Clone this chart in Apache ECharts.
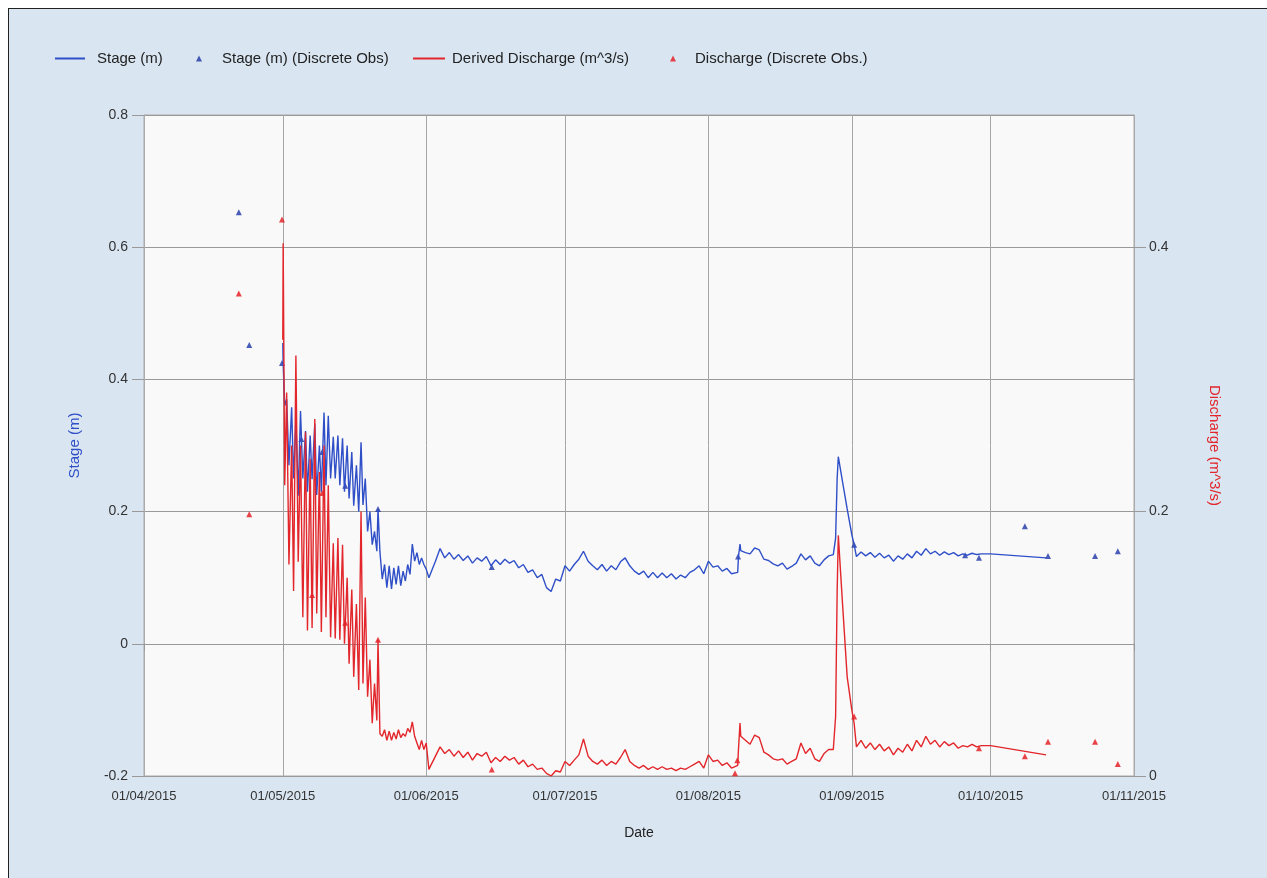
<!DOCTYPE html>
<html><head><meta charset="utf-8">
<script src="https://cdn.jsdelivr.net/npm/echarts@6/dist/echarts.min.js"></script>
<style>
html,body{margin:0;padding:0;background:#fff;width:1267px;height:878px;overflow:hidden;}
#frame{position:absolute;left:8px;top:8px;width:1300px;height:900px;border:1.5px solid #222;background:#d9e5f1;}
#chart{position:absolute;left:0;top:0;width:1267px;height:878px;}
</style></head><body>
<div id="frame"></div><div id="chart"></div>
<script>
const xTickDates = ['2015-04-01','2015-05-01','2015-06-01','2015-07-01','2015-08-01','2015-09-01','2015-10-01','2015-11-01'];
const xTickLabels = ['01/04/2015','01/05/2015','01/06/2015','01/07/2015','01/08/2015','01/09/2015','01/10/2015','01/11/2015'];
const rightTicks = [0, 0.2, 0.4];

const lineTimes = [
'2015-05-01 00:00','2015-05-01 02:00','2015-05-01 10:00','2015-05-01 20:00','2015-05-02 08:00','2015-05-02 22:00',
'2015-05-03 08:00','2015-05-03 20:00','2015-05-04 08:00','2015-05-04 20:00','2015-05-05 08:00','2015-05-05 22:00',
'2015-05-06 08:00','2015-05-06 22:00','2015-05-07 08:00','2015-05-07 22:00','2015-05-08 08:00','2015-05-08 22:00',
'2015-05-09 08:00','2015-05-09 22:00','2015-05-10 08:00','2015-05-10 20:00','2015-05-11 08:00','2015-05-11 22:00',
'2015-05-12 08:00','2015-05-12 22:00','2015-05-13 08:00','2015-05-13 22:00','2015-05-14 08:00','2015-05-14 22:00',
'2015-05-15 08:00','2015-05-15 22:00','2015-05-16 08:00','2015-05-16 22:00','2015-05-17 10:00','2015-05-17 22:00',
'2015-05-18 08:00','2015-05-18 20:00','2015-05-19 08:00','2015-05-19 20:00','2015-05-20 08:00','2015-05-20 20:00',
'2015-05-21 08:00','2015-05-21 14:00','2015-05-22 00:00','2015-05-22 12:00','2015-05-23 00:00','2015-05-23 12:00',
'2015-05-24 00:00','2015-05-24 12:00','2015-05-25 00:00','2015-05-25 12:00','2015-05-26 00:00','2015-05-26 12:00',
'2015-05-27 00:00','2015-05-27 12:00','2015-05-28 00:00','2015-05-28 12:00','2015-05-29 00:00','2015-05-29 12:00',
'2015-05-30 00:00','2015-05-30 12:00','2015-05-31 00:00','2015-05-31 12:00',
'2015-06-01 00:00','2015-06-01 14:00','2015-06-02','2015-06-03','2015-06-04','2015-06-05','2015-06-06','2015-06-07',
'2015-06-08','2015-06-09','2015-06-10','2015-06-11','2015-06-12','2015-06-13','2015-06-14','2015-06-15','2015-06-16',
'2015-06-17','2015-06-18','2015-06-19','2015-06-20','2015-06-21','2015-06-22','2015-06-23','2015-06-24','2015-06-25',
'2015-06-26','2015-06-27','2015-06-28','2015-06-29','2015-06-30',
'2015-07-01','2015-07-02','2015-07-03','2015-07-04','2015-07-05','2015-07-06','2015-07-07','2015-07-08','2015-07-09',
'2015-07-10','2015-07-11','2015-07-12','2015-07-13','2015-07-14','2015-07-15','2015-07-16','2015-07-17','2015-07-18',
'2015-07-19','2015-07-20','2015-07-21','2015-07-22','2015-07-23','2015-07-24','2015-07-25','2015-07-26','2015-07-27',
'2015-07-28','2015-07-29','2015-07-30','2015-07-31',
'2015-08-01','2015-08-02','2015-08-03','2015-08-04','2015-08-05','2015-08-06','2015-08-07 08:00','2015-08-07 12:00',
'2015-08-07 20:00','2015-08-08','2015-08-09','2015-08-10','2015-08-11','2015-08-12','2015-08-13','2015-08-14',
'2015-08-15','2015-08-16','2015-08-17','2015-08-18','2015-08-19','2015-08-20','2015-08-21','2015-08-22','2015-08-23',
'2015-08-24','2015-08-25','2015-08-26','2015-08-27','2015-08-28 00:00','2015-08-28 12:00','2015-08-28 20:00',
'2015-08-29 02:00','2015-08-30 00:00','2015-08-31 00:00','2015-09-01 00:00','2015-09-01 12:00',
'2015-09-02','2015-09-03','2015-09-04','2015-09-05','2015-09-06','2015-09-07','2015-09-08','2015-09-09','2015-09-10',
'2015-09-11','2015-09-12','2015-09-13','2015-09-14','2015-09-15','2015-09-16','2015-09-17','2015-09-18','2015-09-19',
'2015-09-20','2015-09-21','2015-09-22','2015-09-23','2015-09-24','2015-09-25','2015-09-26','2015-09-27','2015-09-28',
'2015-09-29','2015-09-30','2015-10-01','2015-10-13'
];

const stageValues = [
0.455,0.423,0.36,0.37,0.27,0.358,
0.25,0.34,0.224,0.352,0.25,0.322,
0.23,0.315,0.249,0.333,0.225,0.30,
0.23,0.35,0.24,0.345,0.25,0.313,
0.25,0.315,0.24,0.311,0.23,0.30,
0.22,0.29,0.209,0.27,0.20,0.305,
0.21,0.25,0.17,0.20,0.15,0.17,
0.14,0.204,0.139,0.098,0.12,0.085,
0.118,0.083,0.115,0.09,0.118,0.088,
0.11,0.095,0.12,0.105,0.151,0.125,
0.138,0.12,0.13,0.12,
0.113,0.10,0.103,0.125,0.144,0.13,0.138,0.128,
0.135,0.126,0.133,0.122,0.13,0.125,0.132,0.118,0.127,
0.12,0.128,0.122,0.126,0.115,0.12,0.108,0.112,0.10,
0.105,0.085,0.079,0.098,0.095,
0.118,0.11,0.12,0.128,0.14,0.125,0.118,0.112,0.12,
0.11,0.118,0.112,0.124,0.13,0.118,0.11,0.105,0.11,
0.10,0.108,0.10,0.107,0.10,0.106,0.098,0.104,0.10,
0.108,0.112,0.118,0.106,
0.125,0.116,0.118,0.11,0.114,0.106,0.108,0.132,
0.151,0.141,0.138,0.136,0.145,0.142,0.128,0.126,
0.121,0.118,0.122,0.113,0.117,0.122,0.136,0.127,0.133,
0.122,0.118,0.127,0.133,0.135,0.16,0.25,
0.283,0.245,0.204,0.165,0.15,
0.132,0.139,0.133,0.138,0.131,0.137,0.13,0.134,0.125,
0.133,0.128,0.136,0.13,0.14,0.134,0.144,0.136,0.14,
0.134,0.139,0.135,0.138,0.133,0.136,0.134,0.137,0.135,
0.136,0.136,0.136,0.13
];

const dischargeValues = [
0.33,0.403,0.22,0.29,0.16,0.25,
0.14,0.318,0.162,0.25,0.12,0.26,
0.11,0.24,0.112,0.27,0.123,0.23,
0.109,0.25,0.12,0.22,0.105,0.176,
0.104,0.18,0.103,0.175,0.10,0.15,
0.085,0.141,0.075,0.13,0.065,0.20,
0.07,0.135,0.06,0.088,0.04,0.07,
0.042,0.103,0.032,0.03,0.035,0.027,
0.034,0.027,0.033,0.028,0.035,0.029,
0.032,0.03,0.036,0.033,0.041,0.03,
0.025,0.02,0.027,0.02,
0.025,0.005,0.008,0.015,0.022,0.017,0.02,0.015,
0.019,0.014,0.018,0.012,0.017,0.015,0.018,0.010,0.014,
0.011,0.015,0.012,0.014,0.009,0.012,0.007,0.009,0.005,
0.006,0.002,0.0,0.004,0.003,
0.011,0.008,0.012,0.016,0.028,0.015,0.011,0.009,0.012,
0.008,0.011,0.009,0.014,0.02,0.011,0.008,0.006,0.008,
0.005,0.007,0.005,0.007,0.005,0.006,0.004,0.006,0.005,
0.007,0.009,0.011,0.006,
0.016,0.011,0.012,0.008,0.010,0.006,0.008,0.02,
0.04,0.03,0.027,0.024,0.031,0.029,0.018,0.016,
0.013,0.012,0.013,0.009,0.011,0.013,0.025,0.017,0.021,
0.013,0.011,0.017,0.02,0.02,0.045,0.14,
0.182,0.13,0.075,0.05,0.04,
0.022,0.027,0.021,0.025,0.02,0.024,0.019,0.022,0.016,
0.021,0.018,0.024,0.019,0.027,0.022,0.03,0.024,0.027,
0.022,0.026,0.023,0.025,0.021,0.023,0.022,0.024,0.022,
0.023,0.023,0.023,0.016
];

const stageObsTimes = ['2015-04-21 12:00','2015-04-23 18:00','2015-04-30 20:00','2015-05-05 00:00','2015-05-09 12:00','2015-05-14 12:00','2015-05-21 14:00','2015-06-15 04:00','2015-08-07 10:00','2015-09-01 12:00','2015-09-25 12:00','2015-09-28 12:00','2015-10-08 10:00','2015-10-13 10:00','2015-10-23 14:00','2015-10-28 12:00'];
const stageObsValues = [0.653,0.452,0.425,0.31,0.29,0.239,0.204,0.116,0.132,0.15,0.134,0.13,0.178,0.133,0.133,0.14];

const dischargeObsTimes = ['2015-04-21 12:00','2015-04-23 18:00','2015-04-30 20:00','2015-05-07 08:00','2015-05-09 12:00','2015-05-14 12:00','2015-05-21 14:00','2015-06-15 04:00','2015-08-06 18:00','2015-08-07 06:00','2015-09-01 12:00','2015-09-28 12:00','2015-10-08 10:00','2015-10-13 10:00','2015-10-23 14:00','2015-10-28 12:00'];
const dischargeObsValues = [0.365,0.198,0.421,0.137,0.214,0.116,0.103,0.005,0.002,0.012,0.045,0.021,0.015,0.026,0.026,0.009];

function toTs(s){
  const parts = s.split(' ');
  const d = parts[0].split('-').map(Number);
  let hh = 0, mm = 0;
  if (parts[1]) { const t = parts[1].split(':').map(Number); hh = t[0]; mm = t[1]; }
  return new Date(d[0], d[1]-1, d[2], hh, mm).getTime();
}
function zip(times, vals){ return times.map((t,i)=>[toTs(t), vals[i]]); }

const xTickTs = xTickDates.map(toTs);
const FONT = '"Liberation Sans", Arial, sans-serif';
const BLUE = '#2f4fc8', RED = '#e2262b', BLUE_OBS = '#1d35a6', RED_OBS = '#e3161b';

function legendAt(left, top, name, icon, w, h, pad){
  return {
    left: left, top: top, padding: 0, itemWidth: w, itemHeight: h,
    data: [{name: name, icon: icon}], selectedMode: false,
    textStyle: {fontFamily: FONT, fontSize: 15, color: '#222', padding: [0,0,0,pad]}
  };
}

const chart = echarts.init(document.getElementById('chart'), null, {renderer: 'canvas'});
chart.setOption({
  animation: false,
  backgroundColor: 'transparent',
  textStyle: {fontFamily: FONT},
  legend: [
    legendAt(55, 51, 'Stage (m)', 'rect', 30, 2, 7),
    legendAt(196, 51, 'Stage (m) (Discrete Obs)', 'triangle', 6, 6, 15),
    legendAt(413, 51, 'Derived Discharge (m^3/s)', 'rect', 32, 2, 2),
    legendAt(670, 51, 'Discharge (Discrete Obs.)', 'triangle', 6, 6, 14)
  ],
  grid: {left: 144, right: 133, top: 115, bottom: 102, show: true, backgroundColor: '#f9f9f9', borderColor: '#aaa', borderWidth: 1},
  xAxis: {
    type: 'value', min: xTickTs[0], max: xTickTs[xTickTs.length-1],
    name: 'Date', nameLocation: 'middle', nameGap: 50,
    nameTextStyle: {fontFamily: FONT, fontSize: 14, color: '#222'},
    axisLine: {show: true, lineStyle: {color: '#999'}},
    axisTick: {show: true, customValues: xTickTs, length: 7, lineStyle: {color: '#999'}},
    axisLabel: {customValues: xTickTs, fontFamily: FONT, fontSize: 13, color: '#333', margin: 14,
      formatter: function(v){ const i = xTickTs.findIndex(t => Math.abs(t - v) < 43200000); return i >= 0 ? xTickLabels[i] : ''; }},
    splitLine: {show: true, lineStyle: {color: '#a6a6a6', width: 1}}
  },
  yAxis: [
    {
      type: 'value', min: -0.2, max: 0.8, interval: 0.2, position: 'left',
      name: 'Stage (m)', nameLocation: 'middle', nameGap: 62, nameRotate: 90,
      nameTextStyle: {fontFamily: FONT, fontSize: 15, color: '#2f4fc8'},
      axisLine: {show: true, lineStyle: {color: '#aaa'}},
      axisTick: {show: true, length: 12, lineStyle: {color: '#999'}},
      axisLabel: {fontFamily: FONT, fontSize: 14, color: '#333', margin: 16},
      splitLine: {show: true, lineStyle: {color: '#999', width: 1}}
    },
    {
      type: 'value', min: 0, max: 0.5, position: 'right',
      name: 'Discharge (m^3/s)', nameLocation: 'middle', nameGap: 73, nameRotate: -90,
      nameTextStyle: {fontFamily: FONT, fontSize: 15, color: '#e2262b'},
      axisLine: {show: true, lineStyle: {color: '#aaa'}},
      axisTick: {show: true, length: 12, customValues: rightTicks, lineStyle: {color: '#999'}},
      axisLabel: {customValues: rightTicks, fontFamily: FONT, fontSize: 14, color: '#333', margin: 15},
      splitLine: {show: false}
    }
  ],
  series: [
    {name: 'Stage (m)', type: 'line', yAxisIndex: 0, symbol: 'none', data: zip(lineTimes, stageValues),
      lineStyle: {color: BLUE, width: 1.4}, itemStyle: {color: BLUE}},
    {name: 'Stage (m) (Discrete Obs)', type: 'scatter', yAxisIndex: 0, symbol: 'triangle', symbolSize: 6,
      data: zip(stageObsTimes, stageObsValues), itemStyle: {color: BLUE_OBS}},
    {name: 'Derived Discharge (m^3/s)', type: 'line', yAxisIndex: 1, symbol: 'none', data: zip(lineTimes, dischargeValues),
      lineStyle: {color: RED, width: 1.4}, itemStyle: {color: RED}},
    {name: 'Discharge (Discrete Obs.)', type: 'scatter', yAxisIndex: 1, symbol: 'triangle', symbolSize: 6,
      data: zip(dischargeObsTimes, dischargeObsValues), itemStyle: {color: RED_OBS}}
  ]
});
</script></body></html>
